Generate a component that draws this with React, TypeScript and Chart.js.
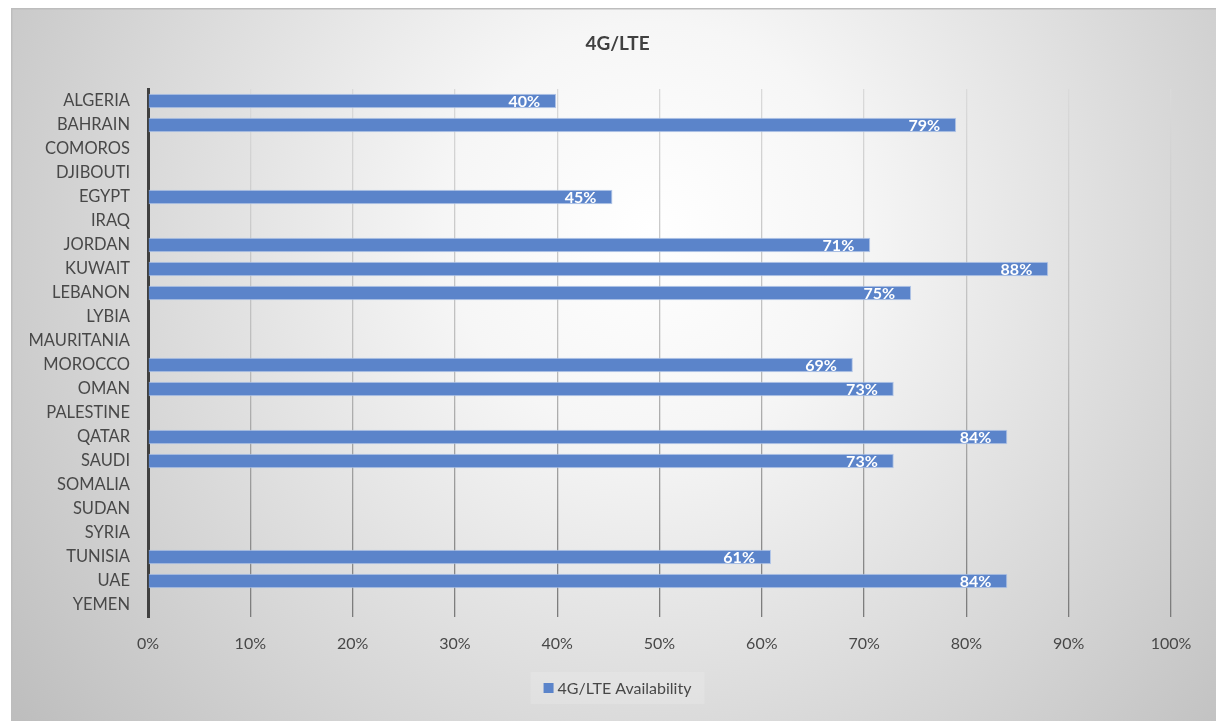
import React, { useEffect, useRef } from 'react';
import { Chart, registerables } from 'chart.js';

Chart.register(...registerables);

const chartTitle = '4G/LTE';
const seriesName = '4G/LTE Availability';
const countries = [
  'ALGERIA', 'BAHRAIN', 'COMOROS', 'DJIBOUTI', 'EGYPT', 'IRAQ', 'JORDAN', 'KUWAIT',
  'LEBANON', 'LYBIA', 'MAURITANIA', 'MOROCCO', 'OMAN', 'PALESTINE', 'QATAR', 'SAUDI',
  'SOMALIA', 'SUDAN', 'SYRIA', 'TUNISIA', 'UAE', 'YEMEN',
];
const availability: (number | null)[] = [
  39.9, 79.0, null, null, 45.4, null, 70.6, 88.0,
  74.6, null, null, 68.9, 72.9, null, 84.0, 72.9,
  null, null, null, 60.9, 84.0, null,
];
const xMin = 0;
const xMax = 100;
const xStep = 10;

const FONT = 'Lato, "Open Sans", "DejaVu Sans", sans-serif';
const TEXT = '#484848';
const BAR = '#5B84CA';
const BAR_EDGE = '#B3C6E8';

const backgroundPlugin = {
  id: 'bgPlugin',
  beforeDraw(chart: any) {
    const { ctx, width, height } = chart;
    ctx.save();
    const g = ctx.createRadialGradient(640, 220, 0, 640, 220, 820);
    g.addColorStop(0, '#ffffff');
    g.addColorStop(0.25, '#f6f6f6');
    g.addColorStop(1, '#bcbcbc');
    ctx.fillStyle = g;
    ctx.fillRect(0, 0, width, height);
    ctx.strokeStyle = '#bdbdbd';
    ctx.lineWidth = 1.5;
    ctx.beginPath();
    ctx.moveTo(0.75, height);
    ctx.lineTo(0.75, 0.75);
    ctx.lineTo(width, 0.75);
    ctx.stroke();
    ctx.restore();
  },
  afterDraw(chart: any) {
    const { ctx, width } = chart;
    ctx.save();
    // title
    ctx.font = `bold 19px ${FONT}`;
    ctx.fillStyle = '#404040';
    ctx.textAlign = 'center';
    ctx.textBaseline = 'middle';
    ctx.fillText(chartTitle, width / 2 + 4, 36);
    // legend
    const label = chart.data.datasets[0].label;
    ctx.font = `16px ${FONT}`;
    const tw = ctx.measureText(label).width;
    const boxW = 10 + 4 + tw;
    const lx = width / 2 + 4 - boxW / 2;
    const ly = 680;
    ctx.fillStyle = 'rgba(255,255,255,0.15)';
    ctx.fillRect(lx - 13, ly - 16, boxW + 26, 32);
    ctx.fillStyle = BAR;
    ctx.fillRect(lx, ly - 5, 10, 10);
    ctx.fillStyle = TEXT;
    ctx.textAlign = 'left';
    ctx.fillText(label, lx + 14, ly + 1);
    ctx.restore();
  },
  afterDatasetsDraw(chart: any) {
    const { ctx } = chart;
    const meta = chart.getDatasetMeta(0);
    const data = chart.data.datasets[0].data;
    ctx.save();
    ctx.font = `bold 16px ${FONT}`;
    ctx.fillStyle = '#ffffff';
    ctx.textAlign = 'right';
    ctx.textBaseline = 'middle';
    meta.data.forEach((el: any, i: number) => {
      const v = data[i];
      if (v === null || v === undefined) return;
      ctx.fillText(Math.round(v) + '%', el.x - 16, el.y + 1);
    });
    ctx.restore();
  },
};

export default function App() {
  const ref = useRef<HTMLCanvasElement | null>(null);
  useEffect(() => {
    if (!ref.current) return;
    const chart = new Chart(ref.current, {
      type: 'bar',
      data: {
        labels: countries,
        datasets: [
          {
            label: seriesName,
            data: availability,
            backgroundColor: BAR,
            borderColor: BAR_EDGE,
            borderWidth: 1,
            categoryPercentage: 1,
            barPercentage: 0.6,
          },
        ],
      },
      options: {
        indexAxis: 'y',
        responsive: false,
        animation: false,
        layout: { padding: { top: 81, right: 45, bottom: 54, left: 0 } },
        plugins: {
          legend: { display: false },
          title: { display: false },
          tooltip: { enabled: false },
        },
        scales: {
          x: {
            min: xMin,
            max: xMax,
            afterFit: (s: any) => { s.height = 50; },
            ticks: {
              stepSize: xStep,
              autoSkip: false,
              padding: 17,
              color: TEXT,
              font: { family: FONT, size: 16 },
              callback: (v: any) => v + '%',
            },
            grid: {
              drawTicks: false,
              lineWidth: 1.3,
              color: (c: any) => {
                const ch = c.chart;
                const ca = ch.chartArea;
                if (!ca) return '#b0b0b0';
                const g = ch.ctx.createLinearGradient(0, ca.top, 0, ca.bottom);
                g.addColorStop(0, '#dadada');
                g.addColorStop(0.5, '#bcbcbc');
                g.addColorStop(1, '#7a7a7a');
                return g;
              },
            },
            border: { display: false },
          },
          y: {
            afterFit: (s: any) => { s.width = 137; },
            ticks: {
              autoSkip: false,
              padding: 18,
              color: TEXT,
              font: { family: FONT, size: 16.5 },
            },
            grid: { display: false, drawTicks: false },
            border: { display: true, color: '#404040', width: 3 },
          },
        },
      },
      plugins: [backgroundPlugin],
    });
    return () => chart.destroy();
  }, []);
  return (
    <div style={{ position: 'fixed', left: 11, top: 8, width: 1205, height: 713 }}>
      <canvas ref={ref} width={1205} height={713} style={{ width: 1205, height: 713, display: 'block' }} />
    </div>
  );
}
